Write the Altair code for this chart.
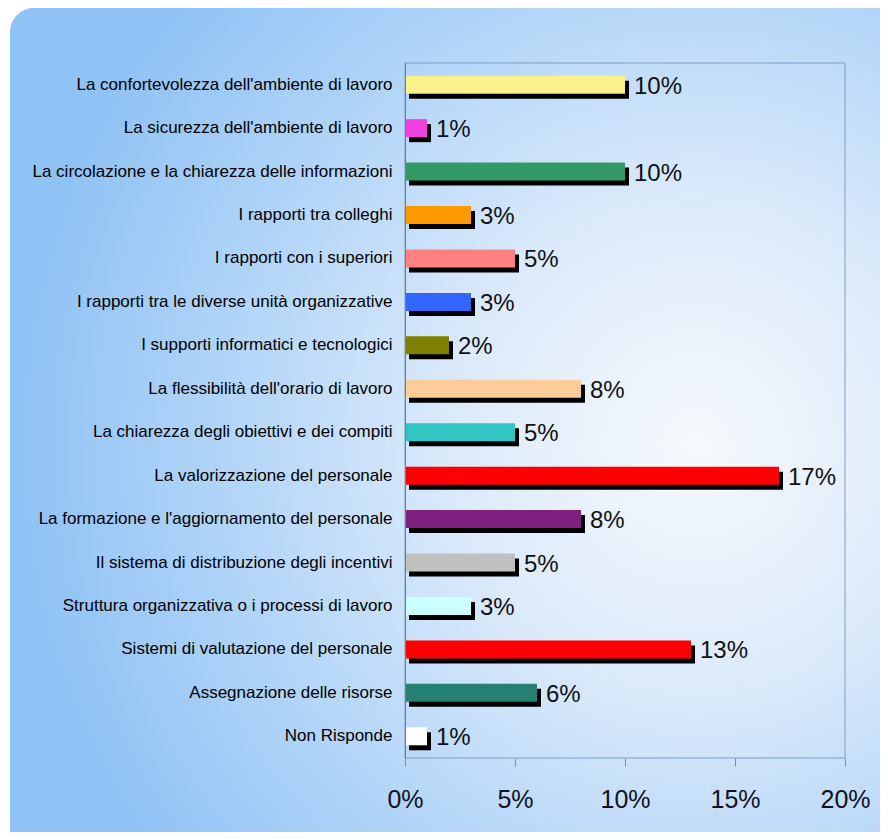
import altair as alt
import pandas as pd

categories = [
    "La confortevolezza dell'ambiente di lavoro",
    "La sicurezza dell'ambiente di lavoro",
    "La circolazione e la chiarezza delle informazioni",
    "I rapporti tra colleghi",
    "I rapporti con i superiori",
    "I rapporti tra le diverse unità organizzative",
    "I supporti informatici e tecnologici",
    "La flessibilità dell'orario di lavoro",
    "La chiarezza degli obiettivi e dei compiti",
    "La valorizzazione del personale",
    "La formazione e l'aggiornamento del personale",
    "Il sistema di distribuzione degli incentivi",
    "Struttura organizzativa o i processi di lavoro",
    "Sistemi di valutazione del personale",
    "Assegnazione delle risorse",
    "Non Risponde",
]
values = [10, 1, 10, 3, 5, 3, 2, 8, 5, 17, 8, 5, 3, 13, 6, 1]
colors = [
    "#faf08c", "#f040e0", "#339966", "#ff9900", "#ff8080", "#3366ff",
    "#808000", "#ffcc99", "#33c4c4", "#ff0000", "#7f1f7f", "#c0c0c0",
    "#ccffff", "#ff0000", "#267f73", "#ffffff",
]
x_ticks = [0, 5, 10, 15, 20]

df = pd.DataFrame({"cat": categories, "v": values})

FONT = "Liberation Sans"
W, H = 440, 695

ycode = alt.Y("cat:N", sort=categories,
              scale=alt.Scale(domain=categories, paddingInner=0, paddingOuter=0),
              axis=alt.Axis(title=None, ticks=False, domain=True, domainColor="#5a82ad",
                            labelFont=FONT, labelFontSize=17, labelColor="#000000",
                            labelPadding=13, labelLimit=420, zindex=1))
xcode = alt.X("v:Q", scale=alt.Scale(domain=[0, 20], nice=False),
              axis=alt.Axis(title=None, values=x_ticks, grid=False, domain=False,
                            tickColor="#7090b4", tickSize=8, labelPadding=21,
                            labelFlush=False,
                            labelFont=FONT, labelFontSize=25, labelColor="#111122",
                            labelExpr="datum.value + '%'", zindex=1))

grad = alt.RadialGradient(
    gradient="radial",
    stops=[
        alt.GradientStop(offset=0, color="#f6f9fd"),
        alt.GradientStop(offset=0.35, color="#dceafa"),
        alt.GradientStop(offset=0.7, color="#b0d4f8"),
        alt.GradientStop(offset=1, color="#8fc2f5"),
    ],
    x1=0.75, y1=0.5, r1=0, x2=0.75, y2=0.5, r2=0.75,
)

bg = alt.Chart(alt.Data(values=[{"a": 1}])).mark_rect(
    cornerRadius=24, fill=grad, strokeWidth=0
).encode(x=alt.value(-395), x2=alt.value(520), y=alt.value(-55), y2=alt.value(820))

frame = alt.Chart(alt.Data(values=[{"a": 1}])).mark_rect(
    fillOpacity=0, stroke="#7d9fc4", strokeWidth=1
).encode(x=alt.value(0), x2=alt.value(W), y=alt.value(0), y2=alt.value(H))

base = alt.Chart(df)

shadow = base.mark_bar(color="#000000", size=18, xOffset=4, yOffset=5).encode(
    x=xcode, y=ycode
)
bars = base.mark_bar(size=18).encode(
    x=xcode, y=ycode,
    color=alt.Color("cat:N", scale=alt.Scale(domain=categories, range=colors), legend=None),
)
labels = base.transform_calculate(lbl="datum.v + '%'").mark_text(
    align="left", baseline="middle", dx=9, dy=2, font=FONT, fontSize=24, color="#111111"
).encode(x=xcode, y=ycode, text="lbl:N")

chart = alt.layer(bg, frame, shadow, bars, labels).properties(
    width=W, height=H,
    autosize=alt.AutoSizeParams(type="none"),
    padding={"left": 397, "top": 55, "right": 35, "bottom": 74},
).configure_view(stroke=None).configure(background="#ffffff")

chart.save("out.html", embed_options={"renderer": "svg", "actions": False})
